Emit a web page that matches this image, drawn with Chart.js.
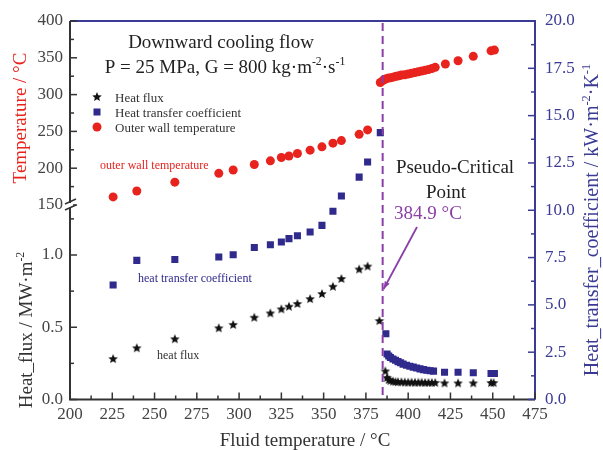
<!DOCTYPE html>
<html>
<head>
<meta charset="utf-8">
<script src="https://cdn.jsdelivr.net/npm/chart.js@4"></script>
<style>
  html, body { margin: 0; padding: 0; background: #fff; }
</style>
</head>
<body>
<canvas id="chart" width="603" height="450"></canvas>
<script>
var SERIF = "'Liberation Serif', 'DejaVu Serif', serif";

// Tick labels
var xTicks = [200, 225, 250, 275, 300, 325, 350, 375, 400, 425, 450, 475];
var tempTicks = [150, 200, 250, 300, 350, 400];
var fluxTicks = [0, 0.5, 1.0];
var htcTicks = [0, 2.5, 5, 7.5, 10, 12.5, 15, 17.5, 20];
var pseudoCritical = 384.9;

// Outer wall temperature (°C)
var tempX = [225.5, 239.5, 262, 288, 296.5, 309, 318.5, 325, 329.5, 334.5, 342, 349, 355.5, 360.5, 371, 376,
  383.5, 385, 386, 387, 388.5, 390, 391.5, 393, 394.5, 396, 398, 400, 402, 404, 406, 408, 410, 412, 414, 416,
  422, 429.5, 438.5, 449, 451];
var tempY = [161, 169, 181, 193, 197.5, 205, 210, 214.5, 216.5, 220, 224.5, 229, 234, 237.5, 246, 252,
  316.5, 319, 320.5, 321.5, 322.5, 323, 324, 325, 325.5, 326.5, 327, 328, 329, 330, 331, 332, 333, 334, 335.5, 337,
  341.5, 346, 352, 359.5, 360.5];

// Heat transfer coefficient (kW/m2K)
var htcX = [225.5, 239.5, 262, 288, 296.5, 309, 318.5, 325, 329.5, 334.5, 342, 349, 355.5, 360.5, 371, 376,
  383.5, 386.8, 387.5, 388.5, 389.5, 391, 392.5, 394, 395.5, 397, 399, 401, 403, 405, 407, 409, 411, 413, 415,
  421.5, 429.5, 438.5, 449, 451];
var htcY = [6.05, 7.35, 7.4, 7.53, 7.65, 8.03, 8.18, 8.32, 8.5, 8.65, 8.85, 9.2, 9.95, 10.75, 11.75, 12.55,
  14.1, 3.47, 2.4, 2.3, 2.22, 2.14, 2.07, 2.0, 1.94, 1.87, 1.81, 1.76, 1.71, 1.66, 1.62, 1.58, 1.55, 1.52, 1.5,
  1.44, 1.44, 1.41, 1.37, 1.37];

// Heat flux (MW/m2)
var fluxX = [225.5, 239.5, 262, 288, 296.5, 309, 318.5, 325, 329.5, 334.5, 342, 349, 355.5, 360.5, 371, 376,
  383, 386.5, 387.5, 388.5, 389.5, 391, 392.5, 394, 396, 398, 400, 402, 404, 406, 408, 410, 412, 414, 416,
  421.5, 429.5, 438.5, 449, 450.5];
var fluxY = [0.28, 0.355, 0.417, 0.493, 0.516, 0.566, 0.596, 0.624, 0.642, 0.661, 0.695, 0.73, 0.78, 0.834, 0.9, 0.92,
  0.543, 0.195, 0.15, 0.135, 0.128, 0.124, 0.121, 0.12, 0.119, 0.118, 0.117, 0.117, 0.116, 0.116, 0.116, 0.115, 0.115, 0.115, 0.115,
  0.112, 0.112, 0.112, 0.114, 0.114];

var RED = '#e8231d';
var NAVY = '#2f2a8c';
var PURPLE = '#8a3fa8';
var AXIS_BLUE = '#3b3b95';
var DARK = '#333333';

function pts(xs, ys) {
  return xs.map(function (x, i) { return { x: x, y: ys[i] }; });
}

function makeStar(r, color) {
  var c = document.createElement('canvas');
  var s = Math.ceil(r * 2) + 2;
  c.width = c.height = s;
  var g = c.getContext('2d');
  g.fillStyle = color;
  g.beginPath();
  for (var i = 0; i < 10; i++) {
    var a = -Math.PI / 2 + i * Math.PI / 5;
    var rr = i % 2 ? r * 0.45 : r;
    g.lineTo(s / 2 + rr * Math.cos(a), s / 2 + rr * Math.sin(a));
  }
  g.closePath();
  g.fill();
  return c;
}
var starImg = makeStar(5, '#111');

// texte avec exposants: parts = [[texte, estExposant], ...]
function richText(ctx, parts, x, y, size, color, align) {
  var w = 0;
  parts.forEach(function (p) {
    ctx.font = (p[1] ? size * 0.62 : size) + 'px ' + SERIF;
    w += ctx.measureText(p[0]).width;
  });
  var cx = align === 'center' ? x - w / 2 : (align === 'right' ? x - w : x);
  ctx.fillStyle = color;
  ctx.textAlign = 'left';
  ctx.textBaseline = 'alphabetic';
  parts.forEach(function (p) {
    ctx.font = (p[1] ? size * 0.62 : size) + 'px ' + SERIF;
    ctx.fillText(p[0], cx, p[1] ? y - size * 0.4 : y);
    cx += ctx.measureText(p[0]).width;
  });
}

function rotatedText(ctx, parts, x, y, size, color) {
  ctx.save();
  ctx.translate(x, y);
  ctx.rotate(-Math.PI / 2);
  richText(ctx, parts, 0, size * 0.35, size, color, 'center');
  ctx.restore();
}

function drawTicks(ctx, scale, majors, side, color) {
  ctx.strokeStyle = color;
  ctx.lineWidth = 1.5;
  var minors = [];
  for (var i = 0; i < majors.length - 1; i++) minors.push((majors[i] + majors[i + 1]) / 2);
  if (scale.id === 'yf') minors.push(1.25);
  var draw = function (v, len) {
    var p = scale.getPixelForValue(v);
    ctx.beginPath();
    if (side === 'bottom') { ctx.moveTo(p, scale.top); ctx.lineTo(p, scale.top - len); }
    if (side === 'left') { ctx.moveTo(scale.right, p); ctx.lineTo(scale.right + len, p); }
    if (side === 'right') { ctx.moveTo(scale.left, p); ctx.lineTo(scale.left - len, p); }
    ctx.stroke();
  };
  majors.forEach(function (v) { draw(v, 7); });
  minors.forEach(function (v) { draw(v, 4); });
}

var decorPlugin = {
  id: 'decor',
  afterDraw: function (chart) {
    var ctx = chart.ctx;
    var a = chart.chartArea;
    var sx = chart.scales.x, st = chart.scales.yt, sf = chart.scales.yf, sh = chart.scales.yh;
    ctx.save();

    // ligne pseudo-critique
    var px = sx.getPixelForValue(pseudoCritical);
    ctx.strokeStyle = PURPLE;
    ctx.lineWidth = 2;
    ctx.setLineDash([8, 5]);
    ctx.beginPath();
    ctx.moveTo(px, a.top + 2);
    ctx.lineTo(px, a.bottom);
    ctx.stroke();
    ctx.setLineDash([]);

    // axes
    ctx.lineWidth = 2;
    ctx.strokeStyle = DARK;
    ctx.beginPath();
    ctx.moveTo(a.left, a.top); ctx.lineTo(a.left, a.bottom); ctx.lineTo(a.right, a.bottom);
    ctx.stroke();
    ctx.strokeStyle = AXIS_BLUE;
    ctx.beginPath();
    ctx.moveTo(a.left, a.top); ctx.lineTo(a.right, a.top); ctx.lineTo(a.right, a.bottom);
    ctx.stroke();

    drawTicks(ctx, sx, xTicks, 'bottom', DARK);
    drawTicks(ctx, st, tempTicks, 'left', DARK);
    drawTicks(ctx, sf, fluxTicks, 'left', DARK);
    drawTicks(ctx, sh, htcTicks, 'right', AXIS_BLUE);

    // coupure d'axe
    var by = st.bottom;
    ctx.fillStyle = '#fff';
    ctx.fillRect(a.left - 3, by - 2, 6, 5);
    ctx.strokeStyle = DARK;
    ctx.lineWidth = 1.5;
    ctx.beginPath();
    ctx.moveTo(a.left - 5, by - 1); ctx.lineTo(a.left + 6, by - 6);
    ctx.moveTo(a.left - 5, by + 5); ctx.lineTo(a.left + 6, by);
    ctx.stroke();

    // titres des axes
    rotatedText(ctx, [['Temperature / °C', false]], 19, 118, 19, RED);
    rotatedText(ctx, [['Heat_flux / MW·m', false], ['-2', true]], 25, 330, 19, DARK);
    rotatedText(ctx, [['Heat_transfer_coefficient / kW·m', false], ['-2', true], ['·K', false], ['-1', true]], 591, 220, 20, AXIS_BLUE);
    richText(ctx, [['Fluid temperature / °C', false]], 305, 446, 19, DARK, 'center');

    // titre
    richText(ctx, [['Downward cooling flow', false]], 221, 48, 19, '#222', 'center');
    richText(ctx, [['P = 25 MPa, G = 800 kg·m', false], ['-2', true], ['·s', false], ['-1', true]], 225, 73, 19, '#222', 'center');

    // légende
    var lx = 97;
    ctx.drawImage(starImg, lx - starImg.width / 2, 97 - starImg.height / 2);
    ctx.fillStyle = NAVY;
    ctx.fillRect(lx - 3.5, 112 - 3.5, 7, 7);
    ctx.fillStyle = RED;
    ctx.beginPath(); ctx.arc(lx, 127, 4.5, 0, Math.PI * 2); ctx.fill();
    richText(ctx, [['Heat flux', false]], 115, 101.5, 13, DARK, 'left');
    richText(ctx, [['Heat transfer coefficient', false]], 115, 116.5, 13, DARK, 'left');
    richText(ctx, [['Outer wall temperature', false]], 115, 131.5, 13, DARK, 'left');

    // annotations
    richText(ctx, [['outer wall temperature', false]], 100, 169, 12, RED, 'left');
    richText(ctx, [['heat transfer coefficient', false]], 138, 282, 12, NAVY, 'left');
    richText(ctx, [['heat flux', false]], 157, 359, 12, DARK, 'left');
    richText(ctx, [['Pseudo-Critical', false]], 455, 173, 19, '#222', 'center');
    richText(ctx, [['Point', false]], 446, 198, 19, '#222', 'center');
    richText(ctx, [['384.9 °C', false]], 428, 219, 19, PURPLE, 'center');

    // flèche
    var ex = px + 1, ey = 289;
    var fx = 417, fy = 227;
    ctx.strokeStyle = PURPLE;
    ctx.fillStyle = PURPLE;
    ctx.lineWidth = 1.8;
    ctx.beginPath(); ctx.moveTo(fx, fy); ctx.lineTo(ex, ey); ctx.stroke();
    var ang = Math.atan2(ey - fy, ex - fx);
    ctx.beginPath();
    ctx.moveTo(ex, ey);
    ctx.lineTo(ex - 8 * Math.cos(ang - 0.35), ey - 8 * Math.sin(ang - 0.35));
    ctx.lineTo(ex - 8 * Math.cos(ang + 0.35), ey - 8 * Math.sin(ang + 0.35));
    ctx.closePath(); ctx.fill();

    ctx.restore();
  }
};

function fixedTicks(list) {
  return function (scale) {
    scale.ticks = list.map(function (v) { return { value: v }; });
  };
}

var tickFont = { family: SERIF, size: 17 };

var chart = new Chart(document.getElementById('chart').getContext('2d'), {
  type: 'scatter',
  data: {
    datasets: [
      {
        label: 'Outer wall temperature',
        data: pts(tempX, tempY),
        yAxisID: 'yt',
        pointStyle: 'circle',
        pointRadius: 4.5,
        pointBackgroundColor: RED,
        pointBorderWidth: 0
      },
      {
        label: 'Heat transfer coefficient',
        data: pts(htcX, htcY),
        yAxisID: 'yh',
        pointStyle: 'rect',
        pointRadius: 5,
        pointBackgroundColor: NAVY,
        pointBorderWidth: 0
      },
      {
        label: 'Heat flux',
        data: pts(fluxX, fluxY),
        yAxisID: 'yf',
        pointStyle: starImg
      }
    ]
  },
  options: {
    responsive: false,
    animation: false,
    events: [],
    layout: { padding: { top: 21, left: 0, right: 0, bottom: 0 } },
    plugins: { legend: { display: false }, tooltip: { enabled: false } },
    scales: {
      x: {
        type: 'linear',
        min: 200, max: 475,
        afterBuildTicks: fixedTicks(xTicks),
        afterFit: function (s) { s.height = 50.5; },
        grid: { display: false, drawTicks: false },
        border: { display: false },
        ticks: { font: tickFont, color: '#444', padding: 5, maxRotation: 0, autoSkip: false }
      },
      yf: {
        type: 'linear',
        position: 'left',
        stack: 'left',
        stackWeight: 194.5,
        min: 0, max: 1.346,
        afterBuildTicks: fixedTicks(fluxTicks),
        afterFit: function (s) { s.width = 70; },
        grid: { display: false, drawTicks: false },
        border: { display: false },
        ticks: { font: tickFont, color: '#444', padding: 7, autoSkip: false, callback: function (v) { return v.toFixed(1); } }
      },
      yt: {
        type: 'linear',
        position: 'left',
        stack: 'left',
        stackWeight: 184,
        min: 150, max: 400,
        afterBuildTicks: fixedTicks(tempTicks),
        afterFit: function (s) { s.width = 70; },
        grid: { display: false, drawTicks: false },
        border: { display: false },
        ticks: { font: tickFont, color: '#444', padding: 7, autoSkip: false }
      },
      yh: {
        type: 'linear',
        position: 'right',
        min: 0, max: 20,
        afterBuildTicks: fixedTicks(htcTicks),
        afterFit: function (s) { s.width = 68; },
        grid: { display: false, drawTicks: false },
        border: { display: false },
        ticks: { font: tickFont, color: AXIS_BLUE, padding: 10, autoSkip: false, callback: function (v) { return v.toFixed(1); } }
      }
    }
  },
  plugins: [decorPlugin]
});
</script>
</body>
</html>
